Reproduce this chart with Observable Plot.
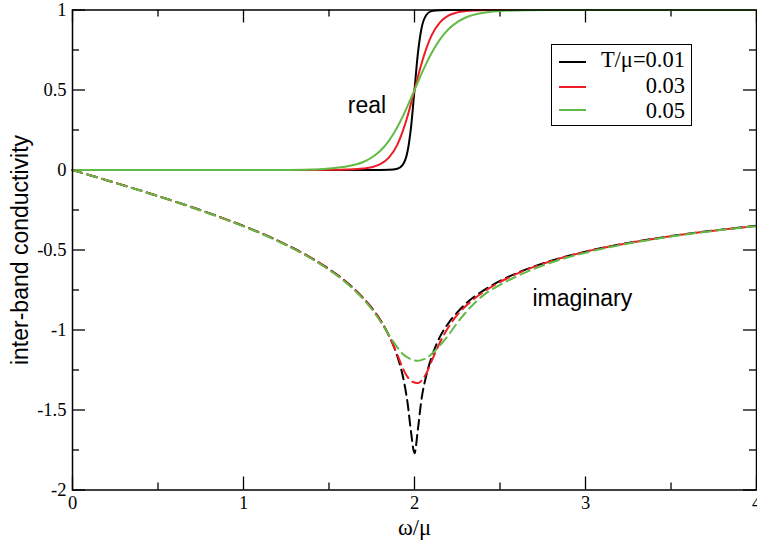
<!DOCTYPE html>
<html>
<head>
<meta charset="utf-8">
<script src="https://cdn.jsdelivr.net/npm/d3@7"></script>
<script src="https://cdn.jsdelivr.net/npm/@observablehq/plot@0.6"></script>
<style>
  html, body { margin: 0; padding: 0; background: #fff; }
  #wrap { position: relative; width: 757px; height: 540px; overflow: hidden; }
  .legend-box { position: absolute; left: 551px; top: 44px; width: 141px; height: 82px; box-sizing: border-box; border: 1.5px solid #000; background: #fff; }
  .legend-sw { position: absolute; left: 559px; width: 27px; height: 2px; }
  .legend-lab { position: absolute; right: 72px; height: 24px; line-height: 24px; font-family: "Liberation Serif", "Times New Roman", serif; font-size: 22.5px; color: #000; white-space: nowrap; }
</style>
</head>
<body>
<div id="wrap"></div>
<script>
// ---- data ----
const omega = [0, 0.2, 0.4, 0.6, 0.8, 1.0, 1.2, 1.4, 1.5, 1.6, 1.7, 1.75, 1.8, 1.85, 1.9, 1.93, 1.96, 1.98,
               2.0, 2.02, 2.04, 2.07, 2.1, 2.15, 2.2, 2.25, 2.3, 2.4, 2.5, 2.6, 2.8, 3.0, 3.25, 3.5, 3.75, 4.0];

const realT001 = [0, 0, 0, 0, 0, 0, 0, 0, 0, 0, 0, 0, 0, 0.001, 0.008, 0.03, 0.12, 0.27,
                  0.5, 0.73, 0.88, 0.97, 0.993, 0.999, 1, 1, 1, 1, 1, 1, 1, 1, 1, 1, 1, 1];
const realT003 = [0, 0, 0, 0, 0, 0, 0, 0, 0.001, 0.003, 0.009, 0.017, 0.036, 0.077, 0.159, 0.238, 0.339, 0.417,
                  0.5, 0.583, 0.661, 0.762, 0.841, 0.924, 0.966, 0.985, 0.993, 0.999, 1, 1, 1, 1, 1, 1, 1, 1];
const realT005 = [0, 0, 0, 0, 0, 0, 0.0003, 0.003, 0.01, 0.022, 0.05, 0.078, 0.12, 0.182, 0.269, 0.332, 0.401, 0.45,
                  0.5, 0.55, 0.599, 0.668, 0.731, 0.818, 0.881, 0.924, 0.953, 0.982, 0.993, 0.9975, 0.9997, 1, 1, 1, 1, 1];

const imagT001 = [0, -0.064, -0.129, -0.197, -0.270, -0.350, -0.441, -0.552, -0.619, -0.699, -0.800, -0.862, -0.937, -1.033, -1.166, -1.28, -1.46, -1.64,
                  -1.77, -1.62, -1.44, -1.28, -1.17, -1.04, -0.955, -0.89, -0.835, -0.755, -0.693, -0.644, -0.567, -0.51, -0.456, -0.413, -0.378, -0.349];
const imagT003 = [0, -0.064, -0.129, -0.198, -0.271, -0.351, -0.442, -0.553, -0.621, -0.701, -0.802, -0.864, -0.94, -1.035, -1.155, -1.235, -1.295, -1.318,
                  -1.328, -1.332, -1.318, -1.27, -1.195, -1.075, -0.98, -0.905, -0.85, -0.765, -0.70, -0.648, -0.569, -0.511, -0.457, -0.414, -0.379, -0.35];
const imagT005 = [0, -0.064, -0.13, -0.198, -0.272, -0.352, -0.444, -0.556, -0.624, -0.705, -0.807, -0.87, -0.945, -1.03, -1.11, -1.148, -1.172, -1.183,
                  -1.19, -1.192, -1.188, -1.175, -1.15, -1.095, -1.03, -0.955, -0.89, -0.785, -0.718, -0.664, -0.578, -0.517, -0.46, -0.416, -0.38, -0.351];

const seriesNames = ["T/μ=0.01", "0.03", "0.05"];
const seriesColors = ["#000000", "#ee1c24", "#62bb46"];

const xMajor = [0, 1, 2, 3, 4];
const xMinor = [0.5, 1.5, 2.5, 3.5];
const yMajor = [1, 0.5, 0, -0.5, -1, -1.5, -2];
const yMinor = [0.75, 0.25, -0.25, -0.75, -1.25, -1.75];
const xLabel = "ω/μ";
const yLabel = "inter-band conductivity";
const annotations = [
  {x: 1.61, y: 0.358, text: "real"},
  {x: 2.69, y: -0.85, text: "imaginary"}
];

// ---- build tables ----
const realSets = [realT001, realT003, realT005];
const imagSets = [imagT001, imagT003, imagT005];
const realRows = realSets.map(vals => omega.map((w, i) => ({w, v: vals[i]})));
const imagRows = imagSets.map(vals => omega.map((w, i) => ({w, v: vals[i]})));

// ---- layout ----
const W = 757, H = 540;
const mL = 72, mR = 1, mT = 9.5, mB = 50.5;
const innerW = W - mL - mR, innerH = H - mT - mB;
const majorLen = 13, minorLen = 7;
const serif = '"Liberation Serif", "Times New Roman", serif';
const sans = '"Liberation Sans", Arial, Helvetica, sans-serif';
const tickStyle = {stroke: "#000", strokeWidth: 1.3};

const marks = [];
// ticks (inward, on all four sides)
marks.push(Plot.ruleX(xMajor, {x: d => d, insetTop: innerH - majorLen, ...tickStyle}));
marks.push(Plot.ruleX(xMinor, {x: d => d, insetTop: innerH - minorLen, ...tickStyle}));
marks.push(Plot.ruleX(xMajor, {x: d => d, insetBottom: innerH - majorLen, ...tickStyle}));
marks.push(Plot.ruleX(xMinor, {x: d => d, insetBottom: innerH - minorLen, ...tickStyle}));
marks.push(Plot.ruleY(yMajor, {y: d => d, insetRight: innerW - majorLen, ...tickStyle}));
marks.push(Plot.ruleY(yMinor, {y: d => d, insetRight: innerW - minorLen, ...tickStyle}));
marks.push(Plot.ruleY(yMajor, {y: d => d, insetLeft: innerW - majorLen, ...tickStyle}));
marks.push(Plot.ruleY(yMinor, {y: d => d, insetLeft: innerW - minorLen, ...tickStyle}));

// data lines
for (let s = 0; s < 3; s++) {
  marks.push(Plot.line(realRows[s], {x: "w", y: "v", stroke: seriesColors[s], strokeWidth: 2, curve: "monotone-x"}));
}
for (let s = 0; s < 3; s++) {
  marks.push(Plot.line(imagRows[s], {x: "w", y: "v", stroke: seriesColors[s], strokeWidth: 2, strokeDasharray: "10,5.5", curve: "monotone-x"}));
}

marks.push(Plot.frame({stroke: "#000", strokeWidth: 1.5}));

// tick labels
marks.push(Plot.axisX(xMajor, {anchor: "bottom", tickSize: 0, tickPadding: 6, tickFormat: d => String(d), label: null, fontSize: 18.5, fontFamily: serif}));
marks.push(Plot.axisY(yMajor, {anchor: "left", tickSize: 0, tickPadding: 6, tickFormat: d => String(d), label: null, fontSize: 18.5, fontFamily: serif}));

// axis titles
marks.push(Plot.text([xLabel], {text: d => d, frameAnchor: "bottom", textAnchor: "middle", dy: 44.5, lineAnchor: "bottom", fontSize: 22.5, fontFamily: serif, fill: "#000"}));
marks.push(Plot.text([yLabel], {text: d => d, frameAnchor: "left", textAnchor: "middle", dx: -45, rotate: -90, lineAnchor: "bottom", fontSize: 23, fontFamily: sans, fill: "#000"}));

// annotations
marks.push(Plot.text(annotations, {x: "x", y: "y", text: "text", textAnchor: "start", lineAnchor: "bottom", fontSize: 23, fontFamily: sans, fill: "#000"}));

const chart = Plot.plot({
  width: W, height: H,
  marginLeft: mL, marginRight: mR, marginTop: mT, marginBottom: mB,
  x: {domain: [0, 4]},
  y: {domain: [-2, 1]},
  style: {fontFamily: serif, fontSize: "18.5px", color: "#000", background: "#fff", overflow: "visible"},
  marks
});

// make sure the numeric tick labels use the serif face
d3.select(chart).selectAll('g[aria-label="x-axis tick label"], g[aria-label="y-axis tick label"]')
  .attr("font-family", serif).style("font-family", serif);

const wrap = document.getElementById("wrap");
wrap.appendChild(chart);

// legend (HTML overlay inside the plot area)
const box = document.createElement("div");
box.className = "legend-box";
wrap.appendChild(box);
const swY = [62, 87, 110];
const labTop = [48, 74, 99];
seriesNames.forEach((name, i) => {
  const sw = document.createElement("div");
  sw.className = "legend-sw";
  sw.style.top = (swY[i] - 1) + "px";
  sw.style.background = seriesColors[i];
  wrap.appendChild(sw);
  const lab = document.createElement("div");
  lab.className = "legend-lab";
  lab.style.top = labTop[i] + "px";
  lab.textContent = name;
  wrap.appendChild(lab);
});
</script>
</body>
</html>
